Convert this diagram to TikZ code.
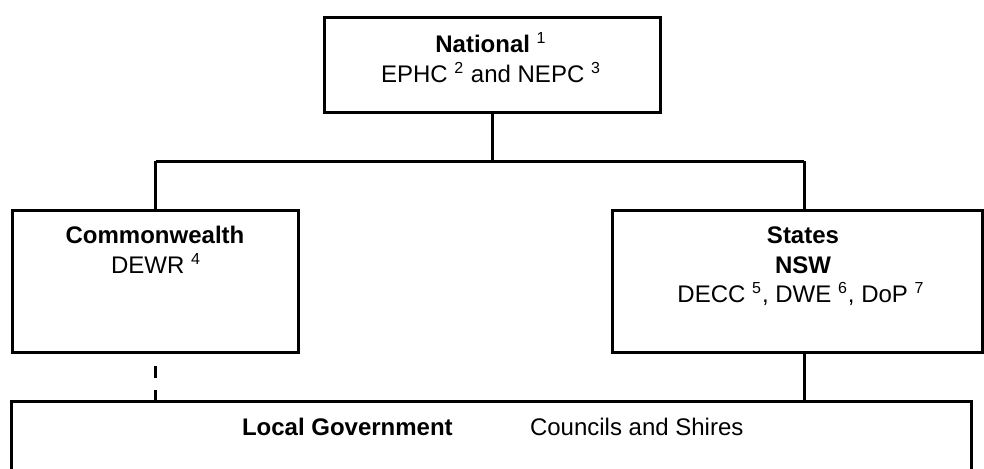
\documentclass[tikz,border=0pt]{standalone}
\usepackage{fontspec}
\setmainfont{Liberation Sans}
\begin{document}
\begin{tikzpicture}[x=0.5pt,y=-0.5pt,
  box/.style={draw=black,line width=1.5pt,fill=white,inner sep=0pt,outer sep=0pt},
  conn/.style={draw=black,line width=1.5pt},
  txt/.style={inner sep=0pt,outer sep=0pt,anchor=base,font=\fontsize{12pt}{15pt}\selectfont}]
\useasboundingbox (0,0) rectangle (984,468);
% boxes
\node[box,minimum width=168pt,minimum height=47.5pt] (nat) at (492,64.5) {};
\node[box,minimum width=143pt,minimum height=71.25pt] (com) at (155.5,281.25) {};
\node[box,minimum width=185pt,minimum height=71.25pt] (sta) at (797.5,281.25) {};
\node[box,minimum width=479.75pt,minimum height=42pt] (loc) at (491.25,443.5) {};
% connectors
\coordinate (bus) at (492,161);
\coordinate (cdrop) at (155.5,161);
\coordinate (sdrop) at (804,161);
\coordinate (sbot) at (804,352.5);
\coordinate (ltop) at (804,401.5);
\draw[conn] (nat.south) -- (bus);
\draw[conn] (cdrop) -- (sdrop);
\draw[conn] (cdrop) -- (com.north);
\draw[conn] (sdrop) -- (sdrop |- sta.north);
\draw[conn] (sbot) -- (ltop);
\draw[conn,dash pattern=on 6pt off 6pt] (com.south |- loc.north) -- (com.south);
% texts
\node[txt] (natA) at (491,52) {\textbf{National} \textsuperscript{1}};
\node[txt] (natB) at (491,82) {EPHC \textsuperscript{2} and NEPC \textsuperscript{3}};
\node[txt] (comA) at (155,243) {\textbf{Commonwealth}};
\node[txt] (comB) at (156,273) {DEWR \textsuperscript{4}};
\node[txt] (staA) at (803,243) {\textbf{States}};
\node[txt] (staB) at (803,273) {\textbf{NSW}};
\node[txt] (staC) at (801,302) {DECC \textsuperscript{5}, DWE \textsuperscript{6}, DoP \textsuperscript{7}};
\node[txt,anchor=base west] (locA) at (242,435) {\textbf{Local Government}};
\node[txt,anchor=base west] (locB) at (530,435) {Councils and Shires};
\end{tikzpicture}
\end{document}
